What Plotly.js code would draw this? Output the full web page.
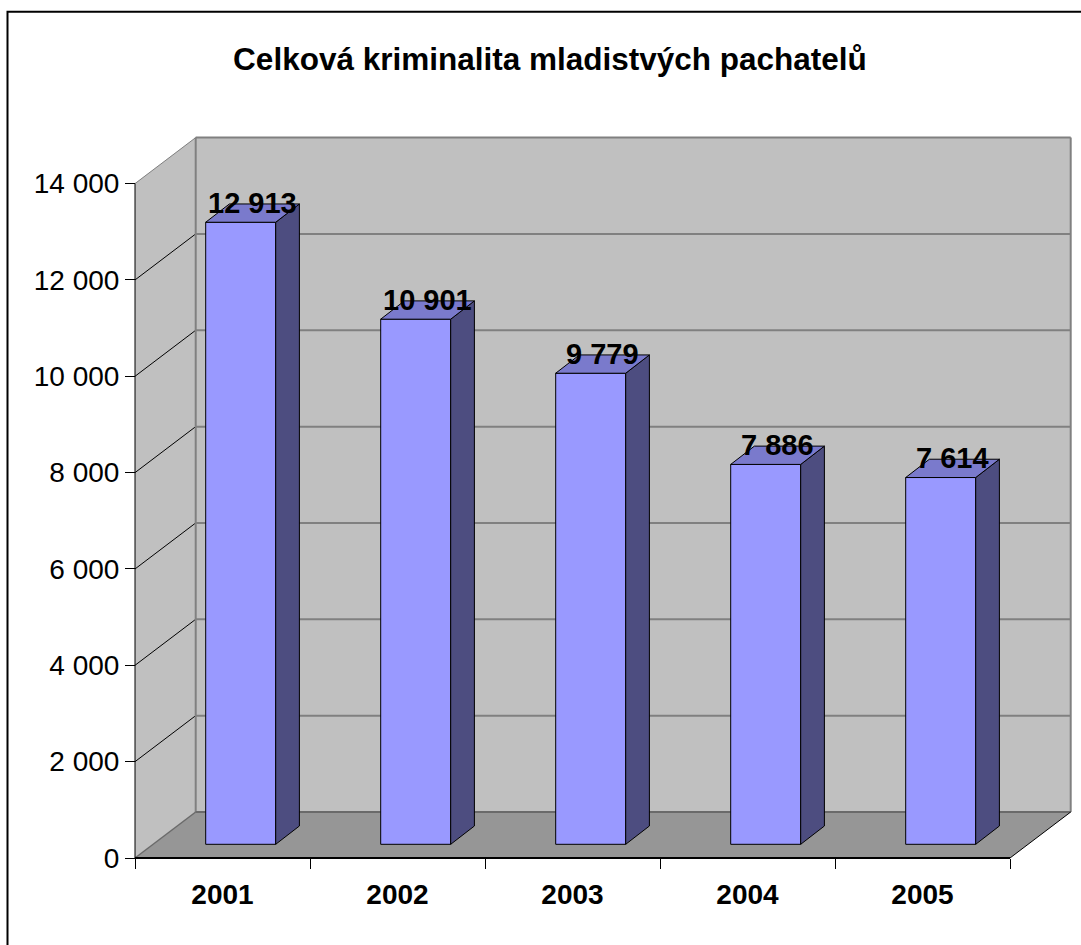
<!DOCTYPE html>
<html>
<head>
<meta charset="utf-8">
<script src="https://cdn.plot.ly/plotly-3.0.1.min.js"></script>
<style>html,body{margin:0;padding:0;background:#fff;}#chart{width:1081px;height:945px;}</style>
</head>
<body>
<div id="chart"></div>
<script>
// ---- data ----
const years = ['2001', '2002', '2003', '2004', '2005'];
const values = [12913, 10901, 9779, 7886, 7614];
const yTickVals = [0, 2000, 4000, 6000, 8000, 10000, 12000, 14000];
const titleText = 'Celková kriminalita mladistvých pachatelů';

// ---- geometry (pixels -> data units) ----
const W = 1081, H = 945;
const PXC = 175;               // px per category (front plane)
const PXU = 674.4 / 14000;     // px per value unit (front plane)
const YTOP = 14000;
const padL = 20, padB = 20;
const mL = 115, mR = 0, mT = 127, mB = 67;
const plotW = W - mL - mR, plotH = H - mT - mB;
const xMin = -0.5 - padL / PXC, xMax = xMin + plotW / PXC;
const yMin = -padB / PXU, yMax = yMin + plotH / PXU;
const DX = 60.7 / PXC, DY = 46 / PXU;          // full depth
const FDX = 18.2 / PXC, FDY = 13.7 / PXU;      // bar front offset
const BDX = 23.7 / PXC, BDY = 18.3 / PXU;      // bar depth
const BW = 70 / PXC;
const FONT = 'Liberation Sans, Arial, sans-serif';

function fmt(v) { return String(v).replace(/\B(?=(\d{3})+(?!\d))/g, ' '); }

const shapes = [];
function line(x0, y0, x1, y1, color, width) {
  shapes.push({type: 'line', xref: 'x', yref: 'y', x0, y0, x1, y1, layer: 'below',
               line: {color, width}});
}
function path(pts, fill) {
  const d = 'M ' + pts.map(p => p[0] + ',' + p[1]).join(' L ') + ' Z';
  shapes.push({type: 'path', xref: 'x', yref: 'y', path: d, layer: 'below',
               fillcolor: fill, line: {width: 0}});
}
const L = -0.5, R = years.length - 0.5;
// walls and floor
path([[L, 0], [L, YTOP], [L + DX, YTOP + DY], [L + DX, DY]], '#C0C0C0');
path([[L + DX, DY], [L + DX, YTOP + DY], [R + DX, YTOP + DY], [R + DX, DY]], '#C0C0C0');
path([[L, 0], [R, 0], [R + DX, DY], [L + DX, DY]], '#969696');
// gridlines
yTickVals.forEach(v => {
  if (v === 0) return;
  line(L + DX, v + DY, R + DX, v + DY, '#808080', 2);
  line(L, v, L + DX, v + DY, v === YTOP ? '#808080' : '#000000', 1);
});
line(L + DX, DY, L + DX, YTOP + DY, '#808080', 2);
line(R + DX, DY, R + DX, YTOP + DY, '#808080', 2);
line(L + DX, DY, R + DX, DY, '#6a6a6a', 2);
line(L, 0, L + DX, DY, '#6a6a6a', 1.5);
line(R, 0, R + DX, DY, '#000000', 1);
line(L, 0, L, YTOP, '#000000', 1);
line(L, 0, R, 0, '#000000', 2);
// outer frame
shapes.push({type: 'rect', xref: 'paper', yref: 'paper',
  x0: (7.5 - mL) / plotW, x1: 2, y0: -2, y1: (H - mB - 11.7) / plotH,
  line: {color: '#000', width: 2}, layer: 'above'});

// ---- traces ----
const traces = [];
traces.push({
  type: 'bar', x: years.map((_, i) => i + FDX), y: values, base: FDY, width: BW,
  marker: {color: '#9999FF', line: {color: '#000', width: 1}}, hoverinfo: 'skip'
});
values.forEach((v, i) => {
  const xl = i + FDX - BW / 2, xr = i + FDX + BW / 2, top = v + FDY;
  traces.push({type: 'scatter', mode: 'lines', fill: 'toself', fillcolor: '#4D4D80',
    x: [xr, xr, xr + BDX, xr + BDX, xr], y: [FDY, top, top + BDY, FDY + BDY, FDY],
    line: {color: '#000', width: 1}, hoverinfo: 'skip'});
  traces.push({type: 'scatter', mode: 'lines', fill: 'toself', fillcolor: '#7A7ACC',
    x: [xl, xr, xr + BDX, xl + BDX, xl], y: [top, top, top + BDY, top + BDY, top],
    line: {color: '#000', width: 1}, hoverinfo: 'skip'});
});
// axis ticks helper trace on xaxis2
traces.push({type: 'scatter', x: [L], y: [0], xaxis: 'x2', yaxis: 'y', mode: 'markers',
  marker: {opacity: 0}, hoverinfo: 'skip'});

const annotations = values.map((v, i) => ({
  x: i + FDX + BDX / 2, y: v + FDY + BDY / 2, xref: 'x', yref: 'y',
  text: fmt(v), showarrow: false, yanchor: 'middle', xanchor: 'center', yshift: 10,
  font: {family: FONT, size: 29, color: '#000', weight: 'bold'}
}));

const layout = {
  width: W, height: H, showlegend: false,
  paper_bgcolor: '#fff', plot_bgcolor: 'rgba(0,0,0,0)',
  margin: {l: mL, r: mR, t: mT, b: mB, pad: 0},
  separators: ', ',
  title: {text: titleText, x: 550 / W, xref: 'container', xanchor: 'center',
          y: 1 - 59 / H, yref: 'container', yanchor: 'middle',
          font: {family: FONT, size: 31.5, color: '#000', weight: 'bold'}},
  xaxis: {range: [xMin, xMax], anchor: 'free', position: padB / plotH,
          tickvals: years.map((_, i) => i), ticktext: years, ticks: '',
          ticklabelstandoff: 17,
          tickfont: {family: FONT, size: 28, color: '#000', weight: 'bold'},
          showgrid: false, zeroline: false, showline: false, fixedrange: true},
  xaxis2: {range: [xMin, xMax], overlaying: 'x', anchor: 'free', position: padB / plotH,
           side: 'bottom',
           tickvals: [0, 1, 2, 3, 4, 5].map(k => k - 0.5), ticks: 'outside', ticklen: 10,
           tickcolor: '#000', tickwidth: 1, showticklabels: false,
           showgrid: false, zeroline: false, showline: false, fixedrange: true},
  yaxis: {range: [yMin, yMax], anchor: 'free', position: padL / plotW,
          tickvals: yTickVals, tickformat: ',d', ticks: 'outside', ticklen: 10,
          tickcolor: '#000', tickwidth: 1,
          tickfont: {family: FONT, size: 28, color: '#000'},
          showgrid: false, zeroline: false, showline: false, fixedrange: true},
  shapes, annotations, barmode: 'overlay'
};
Plotly.newPlot('chart', traces, layout, {staticPlot: true, displayModeBar: false});
</script>
</body>
</html>
